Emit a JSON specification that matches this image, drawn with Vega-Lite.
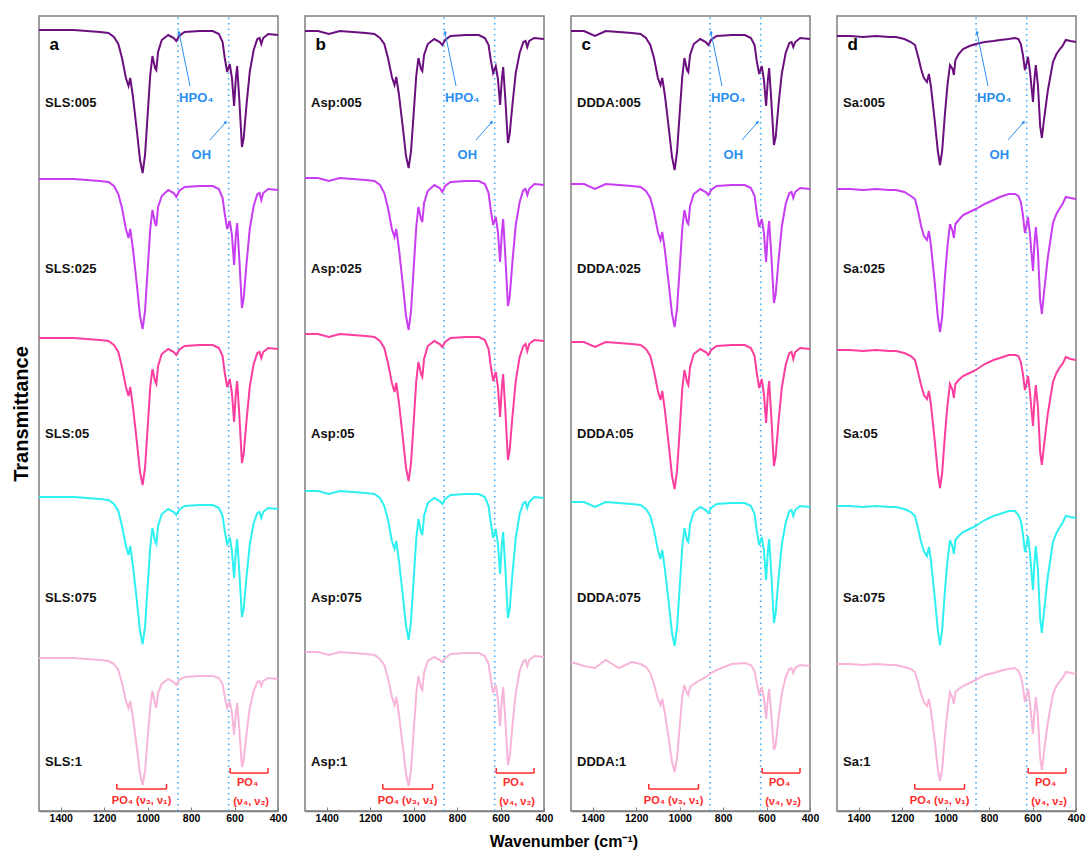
{
"$schema": "https://vega.github.io/schema/vega-lite/v6.json",
"padding": {"left": 10, "top": 14, "right": 0, "bottom": 0},
"bounds": "flush",
"spacing": 27,
"title": {"text": "Wavenumber (cm⁻¹)", "orient": "bottom", "anchor": "middle", "fontSize": 16, "fontWeight": "bold", "font": "Liberation Sans", "color": "#000", "dx": 16, "offset": 10},
"config": {
  "view": {"stroke": "#7f7f7f", "strokeWidth": 1.5},
  "font": "Liberation Sans",
  "axisX": {"title": null, "values": [1500,1400,1300,1200,1100,1000,900,800,700,600,500,400], "format": "d", "labelExpr": "datum.value % 200 === 0 ? datum.label : ''", "labelFontSize": 10.5, "labelFontWeight": "bold", "labelColor": "#000", "tickSize": -4, "tickColor": "#7f7f7f", "domainColor": "#7f7f7f", "domainWidth": 1.5, "grid": false, "labelPadding": 6, "labelFlush": false, "labelOverlap": false}
},
"datasets": {
"a": [
{"s":"005","w":1500,"v":781},{"s":"005","w":1440,"v":781},{"s":"005","w":1390,"v":781},{"s":"005","w":1340,"v":781},{"s":"005","w":1280,"v":780},{"s":"005","w":1220,"v":779},{"s":"005","w":1180,"v":778},{"s":"005","w":1155,"v":774},{"s":"005","w":1135,"v":767},{"s":"005","w":1118,"v":753},{"s":"005","w":1100,"v":733},{"s":"005","w":1088,"v":725},{"s":"005","w":1080,"v":733},{"s":"005","w":1068,"v":715},{"s":"005","w":1050,"v":681},{"s":"005","w":1035,"v":651},{"s":"005","w":1023,"v":638},{"s":"005","w":1012,"v":656},{"s":"005","w":1000,"v":696},{"s":"005","w":988,"v":736},{"s":"005","w":978,"v":755},{"s":"005","w":966,"v":743},{"s":"005","w":960,"v":741},{"s":"005","w":952,"v":759},{"s":"005","w":935,"v":771},{"s":"005","w":905,"v":776},{"s":"005","w":880,"v":773},{"s":"005","w":868,"v":770},{"s":"005","w":855,"v":775},{"s":"005","w":830,"v":779},{"s":"005","w":760,"v":780},{"s":"005","w":700,"v":780},{"s":"005","w":672,"v":777},{"s":"005","w":655,"v":769},{"s":"005","w":645,"v":753},{"s":"005","w":634,"v":739},{"s":"005","w":622,"v":747},{"s":"005","w":612,"v":733},{"s":"005","w":602,"v":705},{"s":"005","w":594,"v":733},{"s":"005","w":588,"v":745},{"s":"005","w":578,"v":711},{"s":"005","w":566,"v":664},{"s":"005","w":558,"v":673},{"s":"005","w":545,"v":706},{"s":"005","w":530,"v":739},{"s":"005","w":512,"v":761},{"s":"005","w":495,"v":772},{"s":"005","w":485,"v":773},{"s":"005","w":477,"v":767},{"s":"005","w":468,"v":773},{"s":"005","w":445,"v":777},{"s":"005","w":400,"v":776},
{"s":"025","w":1500,"v":632},{"s":"025","w":1440,"v":632},{"s":"025","w":1390,"v":632},{"s":"025","w":1340,"v":632},{"s":"025","w":1280,"v":631},{"s":"025","w":1220,"v":630},{"s":"025","w":1180,"v":629},{"s":"025","w":1155,"v":625},{"s":"025","w":1135,"v":617},{"s":"025","w":1118,"v":603},{"s":"025","w":1100,"v":582},{"s":"025","w":1088,"v":573},{"s":"025","w":1080,"v":582},{"s":"025","w":1068,"v":563},{"s":"025","w":1050,"v":527},{"s":"025","w":1035,"v":495},{"s":"025","w":1023,"v":482},{"s":"025","w":1012,"v":500},{"s":"025","w":1000,"v":541},{"s":"025","w":988,"v":582},{"s":"025","w":978,"v":601},{"s":"025","w":966,"v":588},{"s":"025","w":960,"v":585},{"s":"025","w":952,"v":604},{"s":"025","w":935,"v":615},{"s":"025","w":905,"v":621},{"s":"025","w":880,"v":618},{"s":"025","w":868,"v":614},{"s":"025","w":855,"v":620},{"s":"025","w":830,"v":624},{"s":"025","w":760,"v":625},{"s":"025","w":700,"v":625},{"s":"025","w":672,"v":622},{"s":"025","w":655,"v":613},{"s":"025","w":645,"v":597},{"s":"025","w":634,"v":582},{"s":"025","w":622,"v":590},{"s":"025","w":612,"v":576},{"s":"025","w":602,"v":546},{"s":"025","w":594,"v":576},{"s":"025","w":588,"v":588},{"s":"025","w":578,"v":552},{"s":"025","w":566,"v":503},{"s":"025","w":558,"v":513},{"s":"025","w":545,"v":547},{"s":"025","w":530,"v":582},{"s":"025","w":512,"v":605},{"s":"025","w":495,"v":617},{"s":"025","w":485,"v":618},{"s":"025","w":477,"v":611},{"s":"025","w":468,"v":618},{"s":"025","w":445,"v":622},{"s":"025","w":400,"v":621},
{"s":"05","w":1500,"v":473},{"s":"05","w":1440,"v":473},{"s":"05","w":1390,"v":473},{"s":"05","w":1340,"v":473},{"s":"05","w":1280,"v":472},{"s":"05","w":1220,"v":471},{"s":"05","w":1180,"v":470},{"s":"05","w":1155,"v":466},{"s":"05","w":1135,"v":459},{"s":"05","w":1118,"v":444},{"s":"05","w":1100,"v":424},{"s":"05","w":1088,"v":415},{"s":"05","w":1080,"v":424},{"s":"05","w":1068,"v":405},{"s":"05","w":1050,"v":370},{"s":"05","w":1035,"v":339},{"s":"05","w":1023,"v":326},{"s":"05","w":1012,"v":343},{"s":"05","w":1000,"v":383},{"s":"05","w":988,"v":424},{"s":"05","w":978,"v":442},{"s":"05","w":966,"v":430},{"s":"05","w":960,"v":427},{"s":"05","w":952,"v":445},{"s":"05","w":935,"v":457},{"s":"05","w":905,"v":462},{"s":"05","w":880,"v":459},{"s":"05","w":868,"v":456},{"s":"05","w":855,"v":461},{"s":"05","w":830,"v":465},{"s":"05","w":760,"v":466},{"s":"05","w":700,"v":466},{"s":"05","w":672,"v":463},{"s":"05","w":655,"v":455},{"s":"05","w":645,"v":438},{"s":"05","w":634,"v":424},{"s":"05","w":622,"v":432},{"s":"05","w":612,"v":418},{"s":"05","w":602,"v":389},{"s":"05","w":594,"v":418},{"s":"05","w":588,"v":430},{"s":"05","w":578,"v":396},{"s":"05","w":566,"v":348},{"s":"05","w":558,"v":357},{"s":"05","w":545,"v":390},{"s":"05","w":530,"v":424},{"s":"05","w":512,"v":447},{"s":"05","w":495,"v":458},{"s":"05","w":485,"v":459},{"s":"05","w":477,"v":453},{"s":"05","w":468,"v":459},{"s":"05","w":445,"v":463},{"s":"05","w":400,"v":462},
{"s":"075","w":1500,"v":314},{"s":"075","w":1440,"v":314},{"s":"075","w":1390,"v":314},{"s":"075","w":1340,"v":314},{"s":"075","w":1280,"v":313},{"s":"075","w":1220,"v":312},{"s":"075","w":1180,"v":311},{"s":"075","w":1155,"v":307},{"s":"075","w":1135,"v":300},{"s":"075","w":1118,"v":285},{"s":"075","w":1100,"v":265},{"s":"075","w":1088,"v":256},{"s":"075","w":1080,"v":265},{"s":"075","w":1068,"v":246},{"s":"075","w":1050,"v":211},{"s":"075","w":1035,"v":180},{"s":"075","w":1023,"v":167},{"s":"075","w":1012,"v":184},{"s":"075","w":1000,"v":224},{"s":"075","w":988,"v":264},{"s":"075","w":978,"v":283},{"s":"075","w":966,"v":270},{"s":"075","w":960,"v":267},{"s":"075","w":952,"v":285},{"s":"075","w":935,"v":297},{"s":"075","w":905,"v":302},{"s":"075","w":880,"v":299},{"s":"075","w":868,"v":296},{"s":"075","w":855,"v":301},{"s":"075","w":830,"v":305},{"s":"075","w":760,"v":306},{"s":"075","w":700,"v":306},{"s":"075","w":672,"v":303},{"s":"075","w":655,"v":295},{"s":"075","w":645,"v":280},{"s":"075","w":634,"v":266},{"s":"075","w":622,"v":274},{"s":"075","w":612,"v":260},{"s":"075","w":602,"v":233},{"s":"075","w":594,"v":260},{"s":"075","w":588,"v":272},{"s":"075","w":578,"v":239},{"s":"075","w":566,"v":194},{"s":"075","w":558,"v":202},{"s":"075","w":545,"v":234},{"s":"075","w":530,"v":266},{"s":"075","w":512,"v":288},{"s":"075","w":495,"v":298},{"s":"075","w":485,"v":299},{"s":"075","w":477,"v":293},{"s":"075","w":468,"v":299},{"s":"075","w":445,"v":303},{"s":"075","w":400,"v":302},
{"s":"1","w":1500,"v":153},{"s":"1","w":1440,"v":153},{"s":"1","w":1390,"v":153},{"s":"1","w":1340,"v":153},{"s":"1","w":1280,"v":152},{"s":"1","w":1220,"v":151},{"s":"1","w":1180,"v":150},{"s":"1","w":1155,"v":147},{"s":"1","w":1135,"v":141},{"s":"1","w":1118,"v":128},{"s":"1","w":1100,"v":110},{"s":"1","w":1088,"v":103},{"s":"1","w":1080,"v":110},{"s":"1","w":1068,"v":94},{"s":"1","w":1050,"v":64},{"s":"1","w":1035,"v":37},{"s":"1","w":1023,"v":26},{"s":"1","w":1012,"v":40},{"s":"1","w":1000,"v":72},{"s":"1","w":988,"v":104},{"s":"1","w":978,"v":120},{"s":"1","w":966,"v":107},{"s":"1","w":960,"v":103},{"s":"1","w":952,"v":118},{"s":"1","w":935,"v":127},{"s":"1","w":905,"v":132},{"s":"1","w":880,"v":129},{"s":"1","w":868,"v":126},{"s":"1","w":855,"v":131},{"s":"1","w":830,"v":134},{"s":"1","w":760,"v":135},{"s":"1","w":700,"v":135},{"s":"1","w":672,"v":133},{"s":"1","w":655,"v":127},{"s":"1","w":645,"v":114},{"s":"1","w":634,"v":103},{"s":"1","w":622,"v":109},{"s":"1","w":612,"v":98},{"s":"1","w":602,"v":76},{"s":"1","w":594,"v":98},{"s":"1","w":588,"v":108},{"s":"1","w":578,"v":81},{"s":"1","w":566,"v":44},{"s":"1","w":558,"v":51},{"s":"1","w":545,"v":77},{"s":"1","w":530,"v":103},{"s":"1","w":512,"v":120},{"s":"1","w":495,"v":129},{"s":"1","w":485,"v":130},{"s":"1","w":477,"v":125},{"s":"1","w":468,"v":130},{"s":"1","w":445,"v":133},{"s":"1","w":400,"v":132}
],
"b": [
{"s":"005","w":1500,"v":780},{"s":"005","w":1440,"v":780},{"s":"005","w":1390,"v":777},{"s":"005","w":1340,"v":780},{"s":"005","w":1280,"v":779},{"s":"005","w":1220,"v":778},{"s":"005","w":1180,"v":777},{"s":"005","w":1155,"v":773},{"s":"005","w":1135,"v":767},{"s":"005","w":1118,"v":753},{"s":"005","w":1100,"v":734},{"s":"005","w":1088,"v":726},{"s":"005","w":1080,"v":734},{"s":"005","w":1068,"v":717},{"s":"005","w":1050,"v":684},{"s":"005","w":1035,"v":655},{"s":"005","w":1023,"v":643},{"s":"005","w":1012,"v":660},{"s":"005","w":1000,"v":697},{"s":"005","w":988,"v":735},{"s":"005","w":978,"v":753},{"s":"005","w":966,"v":742},{"s":"005","w":960,"v":740},{"s":"005","w":952,"v":756},{"s":"005","w":935,"v":767},{"s":"005","w":905,"v":772},{"s":"005","w":880,"v":769},{"s":"005","w":868,"v":766},{"s":"005","w":855,"v":771},{"s":"005","w":830,"v":775},{"s":"005","w":760,"v":776},{"s":"005","w":700,"v":776},{"s":"005","w":672,"v":773},{"s":"005","w":655,"v":766},{"s":"005","w":645,"v":751},{"s":"005","w":634,"v":738},{"s":"005","w":622,"v":745},{"s":"005","w":612,"v":732},{"s":"005","w":602,"v":706},{"s":"005","w":594,"v":732},{"s":"005","w":588,"v":744},{"s":"005","w":578,"v":712},{"s":"005","w":566,"v":668},{"s":"005","w":558,"v":677},{"s":"005","w":545,"v":707},{"s":"005","w":530,"v":738},{"s":"005","w":512,"v":758},{"s":"005","w":495,"v":769},{"s":"005","w":485,"v":770},{"s":"005","w":477,"v":764},{"s":"005","w":468,"v":770},{"s":"005","w":445,"v":773},{"s":"005","w":400,"v":772},
{"s":"025","w":1500,"v":633},{"s":"025","w":1440,"v":633},{"s":"025","w":1390,"v":630},{"s":"025","w":1340,"v":633},{"s":"025","w":1280,"v":632},{"s":"025","w":1220,"v":631},{"s":"025","w":1180,"v":630},{"s":"025","w":1155,"v":626},{"s":"025","w":1135,"v":618},{"s":"025","w":1118,"v":603},{"s":"025","w":1100,"v":582},{"s":"025","w":1088,"v":574},{"s":"025","w":1080,"v":582},{"s":"025","w":1068,"v":563},{"s":"025","w":1050,"v":527},{"s":"025","w":1035,"v":495},{"s":"025","w":1023,"v":481},{"s":"025","w":1012,"v":500},{"s":"025","w":1000,"v":542},{"s":"025","w":988,"v":584},{"s":"025","w":978,"v":604},{"s":"025","w":966,"v":592},{"s":"025","w":960,"v":589},{"s":"025","w":952,"v":608},{"s":"025","w":935,"v":620},{"s":"025","w":905,"v":626},{"s":"025","w":880,"v":623},{"s":"025","w":868,"v":619},{"s":"025","w":855,"v":625},{"s":"025","w":830,"v":629},{"s":"025","w":760,"v":630},{"s":"025","w":700,"v":630},{"s":"025","w":672,"v":627},{"s":"025","w":655,"v":618},{"s":"025","w":645,"v":601},{"s":"025","w":634,"v":586},{"s":"025","w":622,"v":594},{"s":"025","w":612,"v":579},{"s":"025","w":602,"v":549},{"s":"025","w":594,"v":579},{"s":"025","w":588,"v":592},{"s":"025","w":578,"v":555},{"s":"025","w":566,"v":505},{"s":"025","w":558,"v":514},{"s":"025","w":545,"v":550},{"s":"025","w":530,"v":586},{"s":"025","w":512,"v":609},{"s":"025","w":495,"v":621},{"s":"025","w":485,"v":622},{"s":"025","w":477,"v":616},{"s":"025","w":468,"v":622},{"s":"025","w":445,"v":627},{"s":"025","w":400,"v":626},
{"s":"05","w":1500,"v":477},{"s":"05","w":1440,"v":477},{"s":"05","w":1390,"v":474},{"s":"05","w":1340,"v":477},{"s":"05","w":1280,"v":476},{"s":"05","w":1220,"v":475},{"s":"05","w":1180,"v":474},{"s":"05","w":1155,"v":470},{"s":"05","w":1135,"v":463},{"s":"05","w":1118,"v":448},{"s":"05","w":1100,"v":428},{"s":"05","w":1088,"v":419},{"s":"05","w":1080,"v":428},{"s":"05","w":1068,"v":409},{"s":"05","w":1050,"v":374},{"s":"05","w":1035,"v":343},{"s":"05","w":1023,"v":330},{"s":"05","w":1012,"v":348},{"s":"05","w":1000,"v":388},{"s":"05","w":988,"v":430},{"s":"05","w":978,"v":449},{"s":"05","w":966,"v":437},{"s":"05","w":960,"v":434},{"s":"05","w":952,"v":452},{"s":"05","w":935,"v":465},{"s":"05","w":905,"v":470},{"s":"05","w":880,"v":467},{"s":"05","w":868,"v":464},{"s":"05","w":855,"v":469},{"s":"05","w":830,"v":473},{"s":"05","w":760,"v":474},{"s":"05","w":700,"v":474},{"s":"05","w":672,"v":471},{"s":"05","w":655,"v":462},{"s":"05","w":645,"v":445},{"s":"05","w":634,"v":430},{"s":"05","w":622,"v":439},{"s":"05","w":612,"v":424},{"s":"05","w":602,"v":394},{"s":"05","w":594,"v":424},{"s":"05","w":588,"v":437},{"s":"05","w":578,"v":401},{"s":"05","w":566,"v":351},{"s":"05","w":558,"v":361},{"s":"05","w":545,"v":395},{"s":"05","w":530,"v":430},{"s":"05","w":512,"v":454},{"s":"05","w":495,"v":465},{"s":"05","w":485,"v":467},{"s":"05","w":477,"v":460},{"s":"05","w":468,"v":467},{"s":"05","w":445,"v":471},{"s":"05","w":400,"v":470},
{"s":"075","w":1500,"v":320},{"s":"075","w":1440,"v":320},{"s":"075","w":1390,"v":317},{"s":"075","w":1340,"v":320},{"s":"075","w":1280,"v":319},{"s":"075","w":1220,"v":318},{"s":"075","w":1180,"v":317},{"s":"075","w":1155,"v":313},{"s":"075","w":1135,"v":305},{"s":"075","w":1118,"v":291},{"s":"075","w":1100,"v":270},{"s":"075","w":1088,"v":262},{"s":"075","w":1080,"v":270},{"s":"075","w":1068,"v":251},{"s":"075","w":1050,"v":216},{"s":"075","w":1035,"v":185},{"s":"075","w":1023,"v":171},{"s":"075","w":1012,"v":190},{"s":"075","w":1000,"v":231},{"s":"075","w":988,"v":272},{"s":"075","w":978,"v":292},{"s":"075","w":966,"v":279},{"s":"075","w":960,"v":276},{"s":"075","w":952,"v":295},{"s":"075","w":935,"v":308},{"s":"075","w":905,"v":313},{"s":"075","w":880,"v":310},{"s":"075","w":868,"v":307},{"s":"075","w":855,"v":312},{"s":"075","w":830,"v":316},{"s":"075","w":760,"v":317},{"s":"075","w":700,"v":317},{"s":"075","w":672,"v":314},{"s":"075","w":655,"v":305},{"s":"075","w":645,"v":288},{"s":"075","w":634,"v":273},{"s":"075","w":622,"v":282},{"s":"075","w":612,"v":267},{"s":"075","w":602,"v":237},{"s":"075","w":594,"v":267},{"s":"075","w":588,"v":279},{"s":"075","w":578,"v":243},{"s":"075","w":566,"v":193},{"s":"075","w":558,"v":202},{"s":"075","w":545,"v":238},{"s":"075","w":530,"v":273},{"s":"075","w":512,"v":297},{"s":"075","w":495,"v":308},{"s":"075","w":485,"v":309},{"s":"075","w":477,"v":303},{"s":"075","w":468,"v":309},{"s":"075","w":445,"v":314},{"s":"075","w":400,"v":313},
{"s":"1","w":1500,"v":159},{"s":"1","w":1440,"v":159},{"s":"1","w":1390,"v":156},{"s":"1","w":1340,"v":159},{"s":"1","w":1280,"v":158},{"s":"1","w":1220,"v":157},{"s":"1","w":1180,"v":156},{"s":"1","w":1155,"v":152},{"s":"1","w":1135,"v":146},{"s":"1","w":1118,"v":133},{"s":"1","w":1100,"v":114},{"s":"1","w":1088,"v":106},{"s":"1","w":1080,"v":114},{"s":"1","w":1068,"v":97},{"s":"1","w":1050,"v":65},{"s":"1","w":1035,"v":37},{"s":"1","w":1023,"v":25},{"s":"1","w":1012,"v":41},{"s":"1","w":1000,"v":79},{"s":"1","w":988,"v":117},{"s":"1","w":978,"v":135},{"s":"1","w":966,"v":123},{"s":"1","w":960,"v":121},{"s":"1","w":952,"v":138},{"s":"1","w":935,"v":150},{"s":"1","w":905,"v":154},{"s":"1","w":880,"v":151},{"s":"1","w":868,"v":149},{"s":"1","w":855,"v":153},{"s":"1","w":830,"v":157},{"s":"1","w":760,"v":158},{"s":"1","w":700,"v":158},{"s":"1","w":672,"v":155},{"s":"1","w":655,"v":147},{"s":"1","w":645,"v":132},{"s":"1","w":634,"v":118},{"s":"1","w":622,"v":126},{"s":"1","w":612,"v":112},{"s":"1","w":602,"v":85},{"s":"1","w":594,"v":112},{"s":"1","w":588,"v":124},{"s":"1","w":578,"v":91},{"s":"1","w":566,"v":46},{"s":"1","w":558,"v":54},{"s":"1","w":545,"v":86},{"s":"1","w":530,"v":118},{"s":"1","w":512,"v":140},{"s":"1","w":495,"v":150},{"s":"1","w":485,"v":151},{"s":"1","w":477,"v":145},{"s":"1","w":468,"v":151},{"s":"1","w":445,"v":155},{"s":"1","w":400,"v":154}
],
"c": [
{"s":"005","w":1500,"v":780},{"s":"005","w":1440,"v":780},{"s":"005","w":1390,"v":775},{"s":"005","w":1340,"v":780},{"s":"005","w":1280,"v":779},{"s":"005","w":1220,"v":778},{"s":"005","w":1180,"v":777},{"s":"005","w":1155,"v":773},{"s":"005","w":1135,"v":766},{"s":"005","w":1118,"v":753},{"s":"005","w":1100,"v":733},{"s":"005","w":1088,"v":726},{"s":"005","w":1080,"v":733},{"s":"005","w":1068,"v":716},{"s":"005","w":1050,"v":683},{"s":"005","w":1035,"v":654},{"s":"005","w":1023,"v":641},{"s":"005","w":1012,"v":659},{"s":"005","w":1000,"v":697},{"s":"005","w":988,"v":734},{"s":"005","w":978,"v":753},{"s":"005","w":966,"v":741},{"s":"005","w":960,"v":739},{"s":"005","w":952,"v":756},{"s":"005","w":935,"v":767},{"s":"005","w":905,"v":772},{"s":"005","w":880,"v":769},{"s":"005","w":868,"v":766},{"s":"005","w":855,"v":771},{"s":"005","w":830,"v":775},{"s":"005","w":760,"v":776},{"s":"005","w":700,"v":776},{"s":"005","w":672,"v":773},{"s":"005","w":655,"v":766},{"s":"005","w":645,"v":750},{"s":"005","w":634,"v":737},{"s":"005","w":622,"v":745},{"s":"005","w":612,"v":731},{"s":"005","w":602,"v":705},{"s":"005","w":594,"v":731},{"s":"005","w":588,"v":743},{"s":"005","w":578,"v":710},{"s":"005","w":566,"v":666},{"s":"005","w":558,"v":674},{"s":"005","w":545,"v":706},{"s":"005","w":530,"v":737},{"s":"005","w":512,"v":758},{"s":"005","w":495,"v":768},{"s":"005","w":485,"v":769},{"s":"005","w":477,"v":764},{"s":"005","w":468,"v":769},{"s":"005","w":445,"v":773},{"s":"005","w":400,"v":772},
{"s":"025","w":1500,"v":627},{"s":"025","w":1440,"v":627},{"s":"025","w":1390,"v":622},{"s":"025","w":1340,"v":627},{"s":"025","w":1280,"v":626},{"s":"025","w":1220,"v":625},{"s":"025","w":1180,"v":624},{"s":"025","w":1155,"v":620},{"s":"025","w":1135,"v":613},{"s":"025","w":1118,"v":599},{"s":"025","w":1100,"v":579},{"s":"025","w":1088,"v":571},{"s":"025","w":1080,"v":579},{"s":"025","w":1068,"v":561},{"s":"025","w":1050,"v":527},{"s":"025","w":1035,"v":497},{"s":"025","w":1023,"v":484},{"s":"025","w":1012,"v":502},{"s":"025","w":1000,"v":542},{"s":"025","w":988,"v":582},{"s":"025","w":978,"v":601},{"s":"025","w":966,"v":589},{"s":"025","w":960,"v":587},{"s":"025","w":952,"v":605},{"s":"025","w":935,"v":617},{"s":"025","w":905,"v":622},{"s":"025","w":880,"v":619},{"s":"025","w":868,"v":616},{"s":"025","w":855,"v":621},{"s":"025","w":830,"v":625},{"s":"025","w":760,"v":626},{"s":"025","w":700,"v":626},{"s":"025","w":672,"v":623},{"s":"025","w":655,"v":615},{"s":"025","w":645,"v":598},{"s":"025","w":634,"v":584},{"s":"025","w":622,"v":592},{"s":"025","w":612,"v":578},{"s":"025","w":602,"v":549},{"s":"025","w":594,"v":578},{"s":"025","w":588,"v":590},{"s":"025","w":578,"v":556},{"s":"025","w":566,"v":508},{"s":"025","w":558,"v":517},{"s":"025","w":545,"v":550},{"s":"025","w":530,"v":584},{"s":"025","w":512,"v":607},{"s":"025","w":495,"v":618},{"s":"025","w":485,"v":619},{"s":"025","w":477,"v":613},{"s":"025","w":468,"v":619},{"s":"025","w":445,"v":623},{"s":"025","w":400,"v":622},
{"s":"05","w":1500,"v":469},{"s":"05","w":1440,"v":469},{"s":"05","w":1390,"v":464},{"s":"05","w":1340,"v":469},{"s":"05","w":1280,"v":468},{"s":"05","w":1220,"v":467},{"s":"05","w":1180,"v":466},{"s":"05","w":1155,"v":462},{"s":"05","w":1135,"v":455},{"s":"05","w":1118,"v":440},{"s":"05","w":1100,"v":420},{"s":"05","w":1088,"v":411},{"s":"05","w":1080,"v":420},{"s":"05","w":1068,"v":401},{"s":"05","w":1050,"v":366},{"s":"05","w":1035,"v":335},{"s":"05","w":1023,"v":322},{"s":"05","w":1012,"v":340},{"s":"05","w":1000,"v":380},{"s":"05","w":988,"v":422},{"s":"05","w":978,"v":441},{"s":"05","w":966,"v":429},{"s":"05","w":960,"v":426},{"s":"05","w":952,"v":444},{"s":"05","w":935,"v":457},{"s":"05","w":905,"v":462},{"s":"05","w":880,"v":459},{"s":"05","w":868,"v":456},{"s":"05","w":855,"v":461},{"s":"05","w":830,"v":465},{"s":"05","w":760,"v":466},{"s":"05","w":700,"v":466},{"s":"05","w":672,"v":463},{"s":"05","w":655,"v":455},{"s":"05","w":645,"v":438},{"s":"05","w":634,"v":423},{"s":"05","w":622,"v":432},{"s":"05","w":612,"v":417},{"s":"05","w":602,"v":388},{"s":"05","w":594,"v":417},{"s":"05","w":588,"v":430},{"s":"05","w":578,"v":394},{"s":"05","w":566,"v":345},{"s":"05","w":558,"v":355},{"s":"05","w":545,"v":389},{"s":"05","w":530,"v":423},{"s":"05","w":512,"v":446},{"s":"05","w":495,"v":458},{"s":"05","w":485,"v":459},{"s":"05","w":477,"v":452},{"s":"05","w":468,"v":459},{"s":"05","w":445,"v":463},{"s":"05","w":400,"v":462},
{"s":"075","w":1500,"v":309},{"s":"075","w":1440,"v":309},{"s":"075","w":1390,"v":304},{"s":"075","w":1340,"v":309},{"s":"075","w":1280,"v":308},{"s":"075","w":1220,"v":307},{"s":"075","w":1180,"v":306},{"s":"075","w":1155,"v":302},{"s":"075","w":1135,"v":295},{"s":"075","w":1118,"v":281},{"s":"075","w":1100,"v":261},{"s":"075","w":1088,"v":252},{"s":"075","w":1080,"v":261},{"s":"075","w":1068,"v":242},{"s":"075","w":1050,"v":208},{"s":"075","w":1035,"v":178},{"s":"075","w":1023,"v":165},{"s":"075","w":1012,"v":183},{"s":"075","w":1000,"v":223},{"s":"075","w":988,"v":264},{"s":"075","w":978,"v":283},{"s":"075","w":966,"v":271},{"s":"075","w":960,"v":269},{"s":"075","w":952,"v":287},{"s":"075","w":935,"v":299},{"s":"075","w":905,"v":304},{"s":"075","w":880,"v":301},{"s":"075","w":868,"v":298},{"s":"075","w":855,"v":303},{"s":"075","w":830,"v":307},{"s":"075","w":760,"v":308},{"s":"075","w":700,"v":308},{"s":"075","w":672,"v":305},{"s":"075","w":655,"v":297},{"s":"075","w":645,"v":280},{"s":"075","w":634,"v":266},{"s":"075","w":622,"v":274},{"s":"075","w":612,"v":260},{"s":"075","w":602,"v":231},{"s":"075","w":594,"v":260},{"s":"075","w":588,"v":272},{"s":"075","w":578,"v":237},{"s":"075","w":566,"v":188},{"s":"075","w":558,"v":198},{"s":"075","w":545,"v":232},{"s":"075","w":530,"v":266},{"s":"075","w":512,"v":288},{"s":"075","w":495,"v":300},{"s":"075","w":485,"v":301},{"s":"075","w":477,"v":295},{"s":"075","w":468,"v":301},{"s":"075","w":445,"v":305},{"s":"075","w":400,"v":304},
{"s":"1","w":1500,"v":149},{"s":"1","w":1440,"v":145},{"s":"1","w":1390,"v":143},{"s":"1","w":1340,"v":151},{"s":"1","w":1280,"v":143},{"s":"1","w":1220,"v":149},{"s":"1","w":1180,"v":147},{"s":"1","w":1155,"v":144},{"s":"1","w":1135,"v":138},{"s":"1","w":1118,"v":127},{"s":"1","w":1100,"v":112},{"s":"1","w":1088,"v":106},{"s":"1","w":1080,"v":112},{"s":"1","w":1068,"v":98},{"s":"1","w":1050,"v":72},{"s":"1","w":1035,"v":49},{"s":"1","w":1023,"v":39},{"s":"1","w":1012,"v":53},{"s":"1","w":1000,"v":84},{"s":"1","w":988,"v":114},{"s":"1","w":978,"v":126},{"s":"1","w":966,"v":118},{"s":"1","w":960,"v":116},{"s":"1","w":952,"v":124},{"s":"1","w":935,"v":127},{"s":"1","w":905,"v":131},{"s":"1","w":880,"v":134},{"s":"1","w":868,"v":136},{"s":"1","w":855,"v":138},{"s":"1","w":830,"v":141},{"s":"1","w":760,"v":147},{"s":"1","w":700,"v":148},{"s":"1","w":672,"v":146},{"s":"1","w":655,"v":140},{"s":"1","w":645,"v":128},{"s":"1","w":634,"v":117},{"s":"1","w":622,"v":123},{"s":"1","w":612,"v":113},{"s":"1","w":602,"v":92},{"s":"1","w":594,"v":113},{"s":"1","w":588,"v":122},{"s":"1","w":578,"v":96},{"s":"1","w":566,"v":61},{"s":"1","w":558,"v":66},{"s":"1","w":545,"v":93},{"s":"1","w":530,"v":117},{"s":"1","w":512,"v":134},{"s":"1","w":495,"v":142},{"s":"1","w":485,"v":143},{"s":"1","w":477,"v":138},{"s":"1","w":468,"v":143},{"s":"1","w":445,"v":146},{"s":"1","w":400,"v":145}
],
"d": [
{"s":"005","w":1500,"v":775},{"s":"005","w":1440,"v":775},{"s":"005","w":1380,"v":774},{"s":"005","w":1320,"v":775},{"s":"005","w":1260,"v":774},{"s":"005","w":1229,"v":774},{"s":"005","w":1190,"v":772},{"s":"005","w":1160,"v":769},{"s":"005","w":1141,"v":766},{"s":"005","w":1125,"v":753},{"s":"005","w":1113,"v":742},{"s":"005","w":1100,"v":733},{"s":"005","w":1086,"v":729},{"s":"005","w":1077,"v":737},{"s":"005","w":1068,"v":725},{"s":"005","w":1050,"v":690},{"s":"005","w":1036,"v":660},{"s":"005","w":1026,"v":646},{"s":"005","w":1016,"v":660},{"s":"005","w":1004,"v":695},{"s":"005","w":992,"v":725},{"s":"005","w":980,"v":746},{"s":"005","w":968,"v":742},{"s":"005","w":962,"v":736},{"s":"005","w":955,"v":751},{"s":"005","w":940,"v":757},{"s":"005","w":920,"v":762},{"s":"005","w":890,"v":765},{"s":"005","w":861,"v":767},{"s":"005","w":820,"v":769},{"s":"005","w":780,"v":770},{"s":"005","w":750,"v":771},{"s":"005","w":710,"v":772},{"s":"005","w":681,"v":773},{"s":"005","w":665,"v":772},{"s":"005","w":654,"v":767},{"s":"005","w":645,"v":757},{"s":"005","w":635,"v":741},{"s":"005","w":628,"v":747},{"s":"005","w":621,"v":754},{"s":"005","w":612,"v":740},{"s":"005","w":598,"v":709},{"s":"005","w":592,"v":730},{"s":"005","w":585,"v":746},{"s":"005","w":575,"v":725},{"s":"005","w":565,"v":685},{"s":"005","w":557,"v":673},{"s":"005","w":548,"v":690},{"s":"005","w":530,"v":720},{"s":"005","w":506,"v":749},{"s":"005","w":490,"v":757},{"s":"005","w":474,"v":762},{"s":"005","w":462,"v":765},{"s":"005","w":447,"v":771},{"s":"005","w":425,"v":770},{"s":"005","w":400,"v":769},
{"s":"025","w":1500,"v":622},{"s":"025","w":1440,"v":622},{"s":"025","w":1380,"v":621},{"s":"025","w":1320,"v":622},{"s":"025","w":1260,"v":621},{"s":"025","w":1229,"v":621},{"s":"025","w":1190,"v":619},{"s":"025","w":1160,"v":615},{"s":"025","w":1141,"v":612},{"s":"025","w":1125,"v":598},{"s":"025","w":1113,"v":585},{"s":"025","w":1100,"v":575},{"s":"025","w":1086,"v":571},{"s":"025","w":1077,"v":580},{"s":"025","w":1068,"v":566},{"s":"025","w":1050,"v":528},{"s":"025","w":1036,"v":494},{"s":"025","w":1026,"v":479},{"s":"025","w":1016,"v":494},{"s":"025","w":1004,"v":532},{"s":"025","w":992,"v":564},{"s":"025","w":980,"v":587},{"s":"025","w":968,"v":580},{"s":"025","w":962,"v":573},{"s":"025","w":955,"v":587},{"s":"025","w":940,"v":591},{"s":"025","w":920,"v":596},{"s":"025","w":890,"v":599},{"s":"025","w":861,"v":602},{"s":"025","w":820,"v":607},{"s":"025","w":780,"v":611},{"s":"025","w":750,"v":614},{"s":"025","w":710,"v":617},{"s":"025","w":681,"v":617},{"s":"025","w":665,"v":615},{"s":"025","w":654,"v":609},{"s":"025","w":645,"v":597},{"s":"025","w":635,"v":578},{"s":"025","w":628,"v":585},{"s":"025","w":621,"v":594},{"s":"025","w":612,"v":577},{"s":"025","w":598,"v":540},{"s":"025","w":592,"v":565},{"s":"025","w":585,"v":584},{"s":"025","w":575,"v":559},{"s":"025","w":565,"v":511},{"s":"025","w":557,"v":497},{"s":"025","w":548,"v":517},{"s":"025","w":530,"v":553},{"s":"025","w":506,"v":588},{"s":"025","w":490,"v":597},{"s":"025","w":474,"v":603},{"s":"025","w":462,"v":607},{"s":"025","w":447,"v":614},{"s":"025","w":425,"v":613},{"s":"025","w":400,"v":612},
{"s":"05","w":1500,"v":461},{"s":"05","w":1440,"v":461},{"s":"05","w":1380,"v":460},{"s":"05","w":1320,"v":461},{"s":"05","w":1260,"v":460},{"s":"05","w":1229,"v":460},{"s":"05","w":1190,"v":458},{"s":"05","w":1160,"v":455},{"s":"05","w":1141,"v":451},{"s":"05","w":1125,"v":437},{"s":"05","w":1113,"v":426},{"s":"05","w":1100,"v":416},{"s":"05","w":1086,"v":412},{"s":"05","w":1077,"v":420},{"s":"05","w":1068,"v":407},{"s":"05","w":1050,"v":370},{"s":"05","w":1036,"v":338},{"s":"05","w":1026,"v":323},{"s":"05","w":1016,"v":338},{"s":"05","w":1004,"v":374},{"s":"05","w":992,"v":405},{"s":"05","w":980,"v":427},{"s":"05","w":968,"v":421},{"s":"05","w":962,"v":413},{"s":"05","w":955,"v":427},{"s":"05","w":940,"v":431},{"s":"05","w":920,"v":435},{"s":"05","w":890,"v":438},{"s":"05","w":861,"v":441},{"s":"05","w":820,"v":447},{"s":"05","w":780,"v":451},{"s":"05","w":750,"v":453},{"s":"05","w":710,"v":456},{"s":"05","w":681,"v":456},{"s":"05","w":665,"v":455},{"s":"05","w":654,"v":449},{"s":"05","w":645,"v":438},{"s":"05","w":635,"v":421},{"s":"05","w":628,"v":427},{"s":"05","w":621,"v":435},{"s":"05","w":612,"v":419},{"s":"05","w":598,"v":385},{"s":"05","w":592,"v":408},{"s":"05","w":585,"v":426},{"s":"05","w":575,"v":403},{"s":"05","w":565,"v":359},{"s":"05","w":557,"v":346},{"s":"05","w":548,"v":364},{"s":"05","w":530,"v":397},{"s":"05","w":506,"v":429},{"s":"05","w":490,"v":438},{"s":"05","w":474,"v":444},{"s":"05","w":462,"v":447},{"s":"05","w":447,"v":454},{"s":"05","w":425,"v":452},{"s":"05","w":400,"v":451},
{"s":"075","w":1500,"v":305},{"s":"075","w":1440,"v":305},{"s":"075","w":1380,"v":304},{"s":"075","w":1320,"v":305},{"s":"075","w":1260,"v":304},{"s":"075","w":1229,"v":304},{"s":"075","w":1190,"v":302},{"s":"075","w":1160,"v":299},{"s":"075","w":1141,"v":295},{"s":"075","w":1125,"v":281},{"s":"075","w":1113,"v":269},{"s":"075","w":1100,"v":260},{"s":"075","w":1086,"v":255},{"s":"075","w":1077,"v":264},{"s":"075","w":1068,"v":251},{"s":"075","w":1050,"v":213},{"s":"075","w":1036,"v":181},{"s":"075","w":1026,"v":166},{"s":"075","w":1016,"v":181},{"s":"075","w":1004,"v":218},{"s":"075","w":992,"v":249},{"s":"075","w":980,"v":271},{"s":"075","w":968,"v":264},{"s":"075","w":962,"v":257},{"s":"075","w":955,"v":271},{"s":"075","w":940,"v":275},{"s":"075","w":920,"v":279},{"s":"075","w":890,"v":282},{"s":"075","w":861,"v":285},{"s":"075","w":820,"v":291},{"s":"075","w":780,"v":295},{"s":"075","w":750,"v":297},{"s":"075","w":710,"v":300},{"s":"075","w":681,"v":300},{"s":"075","w":665,"v":296},{"s":"075","w":654,"v":290},{"s":"075","w":645,"v":278},{"s":"075","w":635,"v":259},{"s":"075","w":628,"v":266},{"s":"075","w":621,"v":275},{"s":"075","w":612,"v":258},{"s":"075","w":598,"v":221},{"s":"075","w":592,"v":246},{"s":"075","w":585,"v":265},{"s":"075","w":575,"v":240},{"s":"075","w":565,"v":192},{"s":"075","w":557,"v":178},{"s":"075","w":548,"v":198},{"s":"075","w":530,"v":234},{"s":"075","w":506,"v":269},{"s":"075","w":490,"v":278},{"s":"075","w":474,"v":284},{"s":"075","w":462,"v":288},{"s":"075","w":447,"v":295},{"s":"075","w":425,"v":294},{"s":"075","w":400,"v":293},
{"s":"1","w":1500,"v":147},{"s":"1","w":1440,"v":147},{"s":"1","w":1380,"v":146},{"s":"1","w":1320,"v":147},{"s":"1","w":1260,"v":146},{"s":"1","w":1229,"v":146},{"s":"1","w":1190,"v":144},{"s":"1","w":1160,"v":142},{"s":"1","w":1141,"v":139},{"s":"1","w":1125,"v":127},{"s":"1","w":1113,"v":117},{"s":"1","w":1100,"v":109},{"s":"1","w":1086,"v":105},{"s":"1","w":1077,"v":112},{"s":"1","w":1068,"v":101},{"s":"1","w":1050,"v":70},{"s":"1","w":1036,"v":42},{"s":"1","w":1026,"v":30},{"s":"1","w":1016,"v":42},{"s":"1","w":1004,"v":73},{"s":"1","w":992,"v":99},{"s":"1","w":980,"v":119},{"s":"1","w":968,"v":113},{"s":"1","w":962,"v":107},{"s":"1","w":955,"v":119},{"s":"1","w":940,"v":122},{"s":"1","w":920,"v":125},{"s":"1","w":890,"v":128},{"s":"1","w":861,"v":131},{"s":"1","w":820,"v":136},{"s":"1","w":780,"v":138},{"s":"1","w":750,"v":140},{"s":"1","w":710,"v":142},{"s":"1","w":681,"v":143},{"s":"1","w":665,"v":140},{"s":"1","w":654,"v":135},{"s":"1","w":645,"v":125},{"s":"1","w":635,"v":109},{"s":"1","w":628,"v":115},{"s":"1","w":621,"v":122},{"s":"1","w":612,"v":108},{"s":"1","w":598,"v":77},{"s":"1","w":592,"v":98},{"s":"1","w":585,"v":114},{"s":"1","w":575,"v":93},{"s":"1","w":565,"v":53},{"s":"1","w":557,"v":41},{"s":"1","w":548,"v":58},{"s":"1","w":530,"v":88},{"s":"1","w":506,"v":117},{"s":"1","w":490,"v":125},{"s":"1","w":474,"v":130},{"s":"1","w":462,"v":133},{"s":"1","w":447,"v":139},{"s":"1","w":425,"v":138},{"s":"1","w":400,"v":137}
],
"guides": [{"w":860,"v":0,"v2":795},{"w":627,"v":0,"v2":795}],
"blueText": [{"w":776,"v":713,"t":"HPO₄"},{"w":753,"v":656,"t":"OH"}],
"arrows": [{"w":805,"v":725,"w2":856,"v2":779},{"w":713,"v":671,"w2":640,"v2":689}],
"heads": [{"w":856,"v":779,"a":348},{"w":640,"v":689,"a":42}],
"brackets": [{"w":1142,"v":22,"w2":913,"v2":22},{"w":1142,"v":22,"w2":1142,"v2":27},{"w":913,"v":22,"w2":913,"v2":27},{"w":620,"v":38,"w2":446,"v2":38},{"w":620,"v":38,"w2":620,"v2":43},{"w":446,"v":38,"w2":446,"v2":43}],
"redText": [{"w":1028,"v":10,"t":"PO₄ (ν₃, ν₁)"},{"w":540,"v":28,"t":"PO₄"},{"w":524,"v":9,"t":"(ν₄, ν₂)"}]
},
"hconcat": [
{
"width": 239, "height": 795,
"encoding": {
  "x": {"field": "w", "type": "quantitative", "scale": {"domain": [400, 1500], "reverse": true, "nice": false, "zero": false}},
  "y": {"field": "v", "type": "quantitative", "scale": {"domain": [0, 795], "nice": false, "zero": false}, "axis": {"title": "Transmittance", "labels": false, "ticks": false, "domain": false, "grid": false, "titleFontSize": 20, "titleFontWeight": "bold", "titleColor": "#000", "titlePadding": 8}}
},
"layer": [
{"data": {"name": "guides"}, "mark": {"type": "rule", "color": "#3fa9f5", "strokeDash": [1.5, 4], "strokeWidth": 1.6}, "encoding": {"y2": {"field": "v2"}}},
{"data": {"name": "a"}, "mark": {"type": "line", "strokeWidth": 2}, "encoding": {"color": {"field": "s", "type": "nominal", "scale": {"domain": ["005","025","05","075","1"], "range": ["#6b0f7f","#c83cf2","#fb3d9e","#2ff0f0","#f7b5da"]}, "legend": null}}},
{"data": {"values": [{"w":1472,"v":708,"t":"SLS:005"},{"w":1472,"v":542,"t":"SLS:025"},{"w":1472,"v":377,"t":"SLS:05"},{"w":1472,"v":213,"t":"SLS:075"},{"w":1472,"v":49,"t":"SLS:1"}]}, "mark": {"type": "text", "align": "left", "baseline": "middle", "fontWeight": "bold", "fontSize": 13, "color": "#111"}, "encoding": {"text": {"field": "t"}}},
{"data": {"values": [{"w":1452,"v":766,"t":"a"}]}, "mark": {"type": "text", "align": "left", "baseline": "middle", "fontWeight": "bold", "fontSize": 17, "color": "#000"}, "encoding": {"text": {"field": "t"}}},
{"data": {"name": "blueText"}, "mark": {"type": "text", "align": "center", "baseline": "middle", "fontWeight": "bold", "fontSize": 13, "color": "#2b8ff0"}, "encoding": {"text": {"field": "t"}}},
{"data": {"name": "arrows"}, "mark": {"type": "rule", "color": "#2b8ff0", "strokeWidth": 1}, "encoding": {"x2": {"field": "w2"}, "y2": {"field": "v2"}}},
{"data": {"name": "heads"}, "mark": {"type": "point", "shape": "triangle-up", "filled": true, "size": 14, "color": "#2b8ff0", "opacity": 1}, "encoding": {"angle": {"field": "a", "type": "quantitative", "scale": null}}},
{"data": {"name": "brackets"}, "mark": {"type": "rule", "color": "#ff2a2a", "strokeWidth": 1.5}, "encoding": {"x2": {"field": "w2"}, "y2": {"field": "v2"}}},
{"data": {"name": "redText"}, "mark": {"type": "text", "align": "center", "baseline": "middle", "fontWeight": "bold", "fontSize": 11, "color": "#ff2a2a"}, "encoding": {"text": {"field": "t"}}}
]
},
{
"width": 239, "height": 795,
"encoding": {
  "x": {"field": "w", "type": "quantitative", "scale": {"domain": [400, 1500], "reverse": true, "nice": false, "zero": false}},
  "y": {"field": "v", "type": "quantitative", "scale": {"domain": [0, 795], "nice": false, "zero": false}, "axis": null}
},
"layer": [
{"data": {"name": "guides"}, "mark": {"type": "rule", "color": "#3fa9f5", "strokeDash": [1.5, 4], "strokeWidth": 1.6}, "encoding": {"y2": {"field": "v2"}}},
{"data": {"name": "b"}, "mark": {"type": "line", "strokeWidth": 2}, "encoding": {"color": {"field": "s", "type": "nominal", "scale": {"domain": ["005","025","05","075","1"], "range": ["#6b0f7f","#c83cf2","#fb3d9e","#2ff0f0","#f7b5da"]}, "legend": null}}},
{"data": {"values": [{"w":1472,"v":708,"t":"Asp:005"},{"w":1472,"v":542,"t":"Asp:025"},{"w":1472,"v":377,"t":"Asp:05"},{"w":1472,"v":213,"t":"Asp:075"},{"w":1472,"v":49,"t":"Asp:1"}]}, "mark": {"type": "text", "align": "left", "baseline": "middle", "fontWeight": "bold", "fontSize": 13, "color": "#111"}, "encoding": {"text": {"field": "t"}}},
{"data": {"values": [{"w":1452,"v":766,"t":"b"}]}, "mark": {"type": "text", "align": "left", "baseline": "middle", "fontWeight": "bold", "fontSize": 17, "color": "#000"}, "encoding": {"text": {"field": "t"}}},
{"data": {"name": "blueText"}, "mark": {"type": "text", "align": "center", "baseline": "middle", "fontWeight": "bold", "fontSize": 13, "color": "#2b8ff0"}, "encoding": {"text": {"field": "t"}}},
{"data": {"name": "arrows"}, "mark": {"type": "rule", "color": "#2b8ff0", "strokeWidth": 1}, "encoding": {"x2": {"field": "w2"}, "y2": {"field": "v2"}}},
{"data": {"name": "heads"}, "mark": {"type": "point", "shape": "triangle-up", "filled": true, "size": 14, "color": "#2b8ff0", "opacity": 1}, "encoding": {"angle": {"field": "a", "type": "quantitative", "scale": null}}},
{"data": {"name": "brackets"}, "mark": {"type": "rule", "color": "#ff2a2a", "strokeWidth": 1.5}, "encoding": {"x2": {"field": "w2"}, "y2": {"field": "v2"}}},
{"data": {"name": "redText"}, "mark": {"type": "text", "align": "center", "baseline": "middle", "fontWeight": "bold", "fontSize": 11, "color": "#ff2a2a"}, "encoding": {"text": {"field": "t"}}}
]
},
{
"width": 239, "height": 795,
"encoding": {
  "x": {"field": "w", "type": "quantitative", "scale": {"domain": [400, 1500], "reverse": true, "nice": false, "zero": false}},
  "y": {"field": "v", "type": "quantitative", "scale": {"domain": [0, 795], "nice": false, "zero": false}, "axis": null}
},
"layer": [
{"data": {"name": "guides"}, "mark": {"type": "rule", "color": "#3fa9f5", "strokeDash": [1.5, 4], "strokeWidth": 1.6}, "encoding": {"y2": {"field": "v2"}}},
{"data": {"name": "c"}, "mark": {"type": "line", "strokeWidth": 2}, "encoding": {"color": {"field": "s", "type": "nominal", "scale": {"domain": ["005","025","05","075","1"], "range": ["#6b0f7f","#c83cf2","#fb3d9e","#2ff0f0","#f7b5da"]}, "legend": null}}},
{"data": {"values": [{"w":1472,"v":708,"t":"DDDA:005"},{"w":1472,"v":542,"t":"DDDA:025"},{"w":1472,"v":377,"t":"DDDA:05"},{"w":1472,"v":213,"t":"DDDA:075"},{"w":1472,"v":49,"t":"DDDA:1"}]}, "mark": {"type": "text", "align": "left", "baseline": "middle", "fontWeight": "bold", "fontSize": 13, "color": "#111"}, "encoding": {"text": {"field": "t"}}},
{"data": {"values": [{"w":1452,"v":766,"t":"c"}]}, "mark": {"type": "text", "align": "left", "baseline": "middle", "fontWeight": "bold", "fontSize": 17, "color": "#000"}, "encoding": {"text": {"field": "t"}}},
{"data": {"name": "blueText"}, "mark": {"type": "text", "align": "center", "baseline": "middle", "fontWeight": "bold", "fontSize": 13, "color": "#2b8ff0"}, "encoding": {"text": {"field": "t"}}},
{"data": {"name": "arrows"}, "mark": {"type": "rule", "color": "#2b8ff0", "strokeWidth": 1}, "encoding": {"x2": {"field": "w2"}, "y2": {"field": "v2"}}},
{"data": {"name": "heads"}, "mark": {"type": "point", "shape": "triangle-up", "filled": true, "size": 14, "color": "#2b8ff0", "opacity": 1}, "encoding": {"angle": {"field": "a", "type": "quantitative", "scale": null}}},
{"data": {"name": "brackets"}, "mark": {"type": "rule", "color": "#ff2a2a", "strokeWidth": 1.5}, "encoding": {"x2": {"field": "w2"}, "y2": {"field": "v2"}}},
{"data": {"name": "redText"}, "mark": {"type": "text", "align": "center", "baseline": "middle", "fontWeight": "bold", "fontSize": 11, "color": "#ff2a2a"}, "encoding": {"text": {"field": "t"}}}
]
},
{
"width": 239, "height": 795,
"encoding": {
  "x": {"field": "w", "type": "quantitative", "scale": {"domain": [400, 1500], "reverse": true, "nice": false, "zero": false}},
  "y": {"field": "v", "type": "quantitative", "scale": {"domain": [0, 795], "nice": false, "zero": false}, "axis": null}
},
"layer": [
{"data": {"name": "guides"}, "mark": {"type": "rule", "color": "#3fa9f5", "strokeDash": [1.5, 4], "strokeWidth": 1.6}, "encoding": {"y2": {"field": "v2"}}},
{"data": {"name": "d"}, "mark": {"type": "line", "strokeWidth": 2}, "encoding": {"color": {"field": "s", "type": "nominal", "scale": {"domain": ["005","025","05","075","1"], "range": ["#6b0f7f","#c83cf2","#fb3d9e","#2ff0f0","#f7b5da"]}, "legend": null}}},
{"data": {"values": [{"w":1472,"v":708,"t":"Sa:005"},{"w":1472,"v":542,"t":"Sa:025"},{"w":1472,"v":377,"t":"Sa:05"},{"w":1472,"v":213,"t":"Sa:075"},{"w":1472,"v":49,"t":"Sa:1"}]}, "mark": {"type": "text", "align": "left", "baseline": "middle", "fontWeight": "bold", "fontSize": 13, "color": "#111"}, "encoding": {"text": {"field": "t"}}},
{"data": {"values": [{"w":1452,"v":766,"t":"d"}]}, "mark": {"type": "text", "align": "left", "baseline": "middle", "fontWeight": "bold", "fontSize": 17, "color": "#000"}, "encoding": {"text": {"field": "t"}}},
{"data": {"name": "blueText"}, "mark": {"type": "text", "align": "center", "baseline": "middle", "fontWeight": "bold", "fontSize": 13, "color": "#2b8ff0"}, "encoding": {"text": {"field": "t"}}},
{"data": {"name": "arrows"}, "mark": {"type": "rule", "color": "#2b8ff0", "strokeWidth": 1}, "encoding": {"x2": {"field": "w2"}, "y2": {"field": "v2"}}},
{"data": {"name": "heads"}, "mark": {"type": "point", "shape": "triangle-up", "filled": true, "size": 14, "color": "#2b8ff0", "opacity": 1}, "encoding": {"angle": {"field": "a", "type": "quantitative", "scale": null}}},
{"data": {"name": "brackets"}, "mark": {"type": "rule", "color": "#ff2a2a", "strokeWidth": 1.5}, "encoding": {"x2": {"field": "w2"}, "y2": {"field": "v2"}}},
{"data": {"name": "redText"}, "mark": {"type": "text", "align": "center", "baseline": "middle", "fontWeight": "bold", "fontSize": 11, "color": "#ff2a2a"}, "encoding": {"text": {"field": "t"}}}
]
}
]
}
